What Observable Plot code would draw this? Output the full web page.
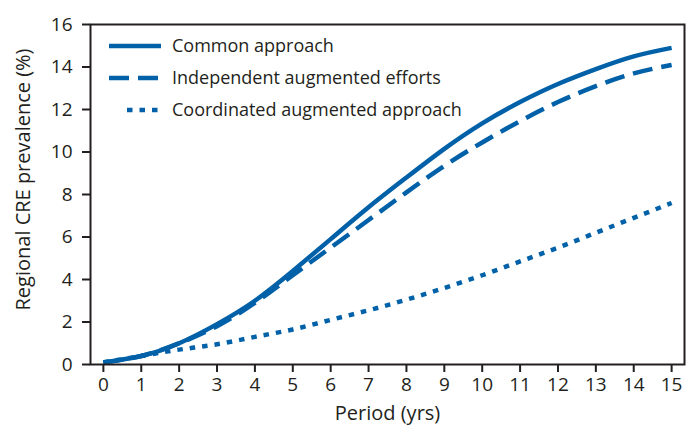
<!DOCTYPE html>
<html><head><meta charset="utf-8">
<script src="https://cdn.jsdelivr.net/npm/d3@7"></script>
<script src="https://cdn.jsdelivr.net/npm/@observablehq/plot@0.6"></script>
<style>
body{margin:0;background:#fff;}
#wrap{position:relative;width:689px;height:436px;font-family:"Open Sans",sans-serif;}
#legend{position:absolute;left:0;top:0;}
</style>
</head><body><div id="wrap"></div>
<script>
const years = [0,1,2,3,4,5,6,7,8,9,10,11,12,13,14,15];
const common = [0.1,0.4,1.0,1.9,3.0,4.4,5.9,7.4,8.8,10.15,11.35,12.35,13.2,13.9,14.5,14.9];
const independent = [0.1,0.4,1.0,1.8,2.9,4.2,5.5,6.8,8.1,9.35,10.45,11.45,12.35,13.1,13.7,14.1];
const coordinated = [0.1,0.4,0.7,0.95,1.3,1.65,2.1,2.55,3.05,3.6,4.2,4.85,5.5,6.2,6.9,7.6];
const seriesNames = ["Common approach","Independent augmented efforts","Coordinated augmented approach"];
const yTicks = [0,2,4,6,8,10,12,14,16];
const xTicks = years;

const blue = "#0061a8";
const ink = "#231f20";
const dashes = [null, "20,9", "5.5,7"];
const values = [common, independent, coordinated];
const data = seriesNames.flatMap((s,i)=>years.map((y,j)=>({series:s, x:y, y:values[i][j]})));

const plot = Plot.plot({
  width: 689, height: 436,
  marginLeft: 90, marginTop: 24, marginRight: 5, marginBottom: 72,
  style: {fontFamily: "'Open Sans', sans-serif", fontSize: "19px", color: ink, background: "#fff"},
  x: {domain: [-0.34, 15.34], label: null},
  y: {domain: [0, 16], label: null},
  marks: [
    ...seriesNames.map((s,i)=>Plot.line(data.filter(d=>d.series===s), {
      x:"x", y:"y", curve:"natural", stroke: blue, strokeWidth: 4.5,
      strokeDasharray: dashes[i] ?? undefined, strokeLinecap: "butt"
    })),
    Plot.frame({stroke: ink, strokeWidth: 2}),
    Plot.axisY(yTicks, {tickSize: 8, tickPadding: 10, stroke: ink, strokeWidth: 2, fill: ink, fontSize: 19, label: null}),
    Plot.axisX(xTicks, {tickSize: 8, tickPadding: 5, stroke: ink, strokeWidth: 2, fill: ink, fontSize: 19, label: null}),
    Plot.text(["Period (yrs)"], {frameAnchor: "bottom", dy: 55, fontSize: 20, fill: ink}),
    Plot.text(["Regional CRE prevalence (%)"], {frameAnchor: "left", textAnchor: "middle", dx: -67, dy: -15, rotate: -90, fontSize: 20, fill: ink})
  ]
});
const wrap = document.getElementById("wrap");
wrap.appendChild(plot);

// legend
const lg = d3.select(wrap).append("svg").attr("id","legend").attr("width",689).attr("height",436);
const legendX1 = [109, 109, 127];
seriesNames.forEach((s,i)=>{
  const y = 46 + i*32;
  lg.append("line").attr("x1",legendX1[i]).attr("x2",161).attr("y1",y).attr("y2",y)
    .attr("stroke",blue).attr("stroke-width",4.5)
    .attr("stroke-dasharray", dashes[i]);
  lg.append("text").attr("x",172).attr("y",y).attr("dy","0.35em")
    .attr("font-size",18).attr("fill",ink).attr("font-family","'Open Sans', sans-serif").text(s);
});
</script></body></html>
